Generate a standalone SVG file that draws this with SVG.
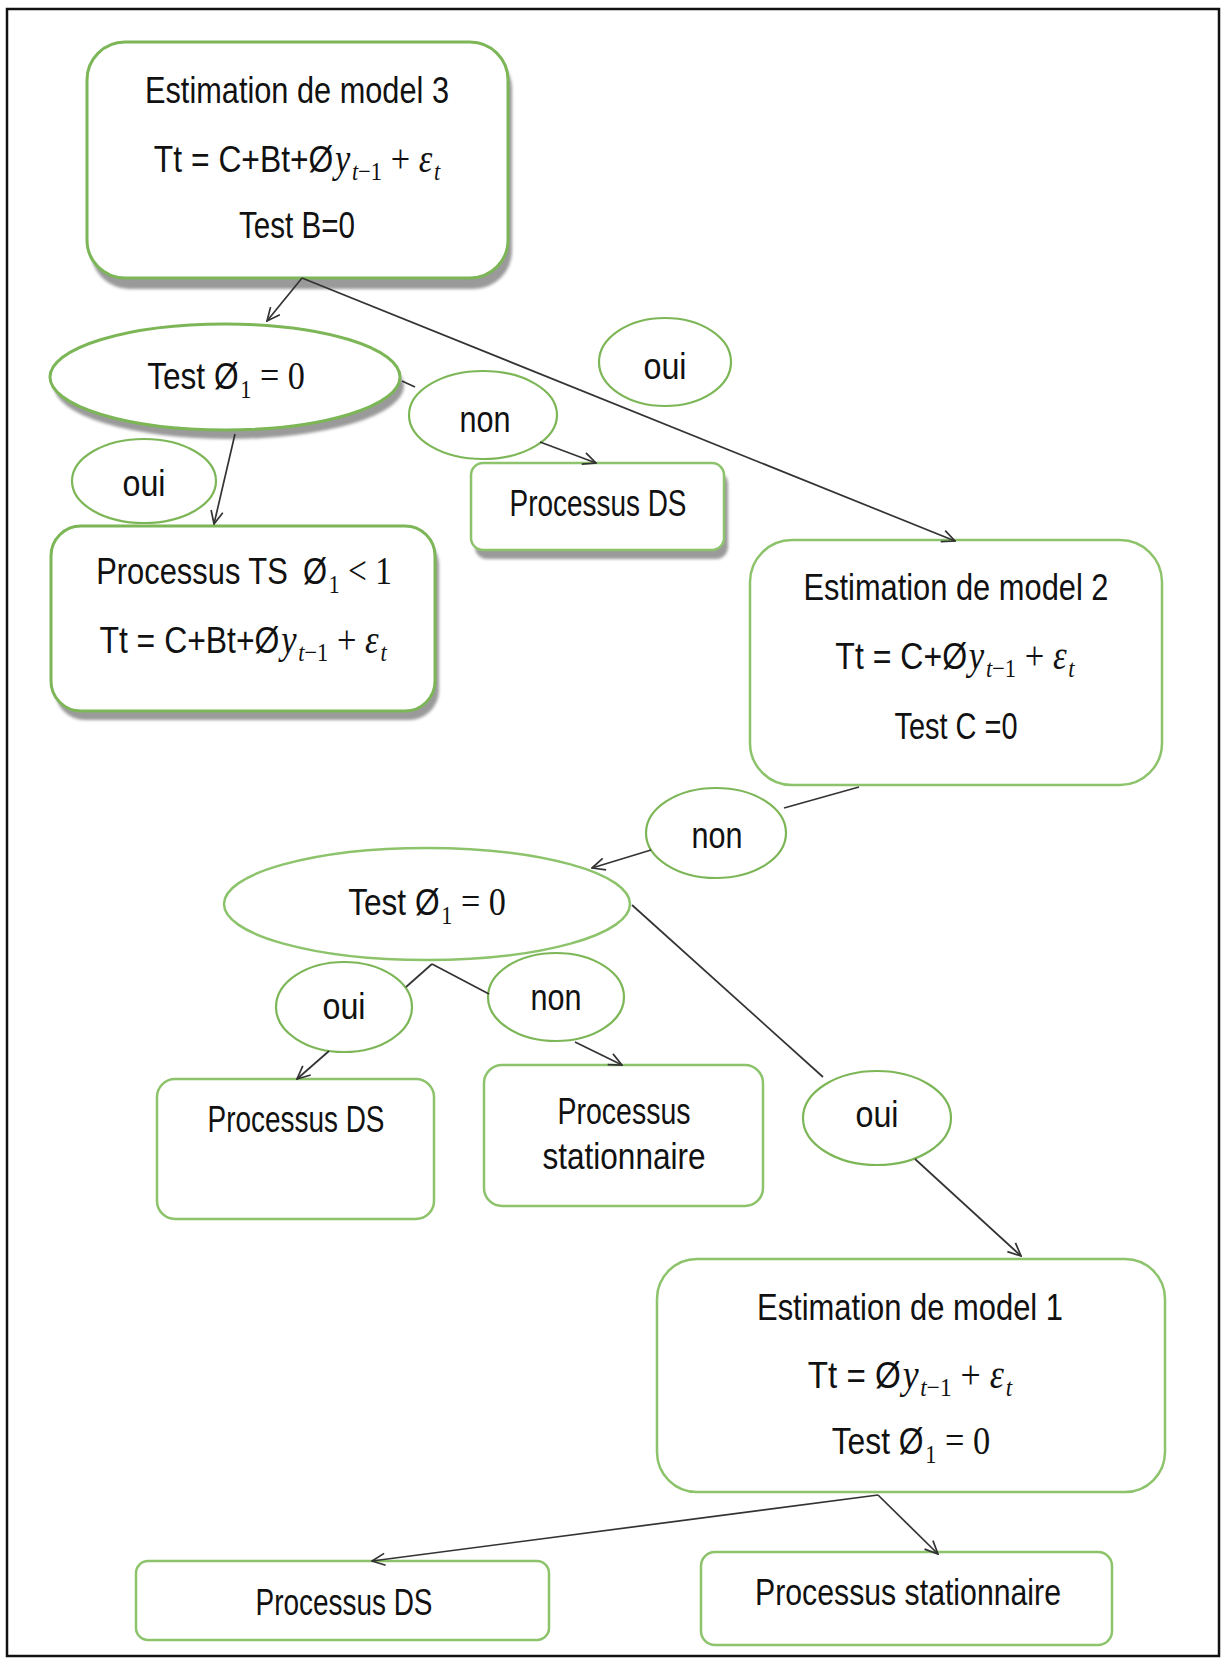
<svg xmlns="http://www.w3.org/2000/svg" width="1223" height="1659" viewBox="0 0 1223 1659">
  <style>
    .box { fill: #ffffff; stroke: #7cb657; stroke-width: 3; }
    .lite { fill: #ffffff; stroke: #8cc36b; stroke-width: 2.5; }
    .shadow { fill: #9a9a9a; filter: url(#soft); }
    .lbl { fill: #ffffff; stroke: #7cb657; stroke-width: 2.2; }
    .t { font-family: "Liberation Sans", Arial, sans-serif; font-size: 37px; fill: #111; text-anchor: middle; }
    .m { font-family: "Liberation Serif", "DejaVu Serif", serif; font-style: italic; font-size: 40px; }
    .mr { font-family: "Liberation Serif", "DejaVu Serif", serif; font-size: 40px; }
    .sub { font-size: 26px; }
    .edge { fill: none; stroke: #333; stroke-width: 1.7; }
  </style>
  <defs>
    <filter id="soft" x="-5%" y="-5%" width="110%" height="120%">
      <feGaussianBlur stdDeviation="1.5"/>
    </filter>
    <marker id="arr" viewBox="0 0 16 16" refX="15" refY="8" markerWidth="16" markerHeight="16" markerUnits="userSpaceOnUse" orient="auto">
      <path d="M2,2 L15,8 L2,14" fill="none" stroke="#333" stroke-width="1.7"/>
    </marker>
  </defs>

  <rect x="0" y="0" width="1223" height="1659" fill="#ffffff"/>
  <!-- page frame -->
  <rect x="7" y="9" width="1212" height="1647" fill="none" stroke="#111" stroke-width="2.5"/>

  <!-- Estimation de model 3 -->
  <g id="model3">
    <rect class="shadow" x="91" y="51" width="421" height="238" rx="38"/>
    <rect class="box" x="87" y="42" width="421" height="236" rx="38"/>
    <text class="t" x="297" y="103" textLength="304" lengthAdjust="spacingAndGlyphs">Estimation de model 3</text>
    <text class="t" x="0" y="172" transform="translate(297,0) scale(0.86,1)">Tt = C+Bt+Ø<tspan class="m" dx="2">y</tspan><tspan class="m sub" dx="2" dy="8">t</tspan><tspan class="mr sub">−1</tspan><tspan class="mr" dy="-8"> + </tspan><tspan class="m">ε</tspan><tspan class="m sub" dx="2" dy="8">t</tspan></text>
    <text class="t" x="297" y="238" textLength="116" lengthAdjust="spacingAndGlyphs">Test B=0</text>
  </g>

  <!-- Test phi = 0 (model 3) -->
  <g id="test1">
    <ellipse class="shadow" cx="229" cy="386" rx="175" ry="53"/>
    <ellipse class="box" cx="225" cy="377" rx="175" ry="53"/>
    <text class="t" x="0" y="389" transform="translate(226,0) scale(0.855,1)">Test Ø<tspan class="mr sub" dx="2" dy="9">1</tspan><tspan class="mr" dy="-9"> = 0</tspan></text>
  </g>

  <g id="oui1">
    <ellipse class="lbl" cx="144" cy="481" rx="72" ry="42"/>
    <text class="t" x="144" y="496" textLength="43" lengthAdjust="spacingAndGlyphs">oui</text>
  </g>

  <g id="non1">
    <ellipse class="lbl" cx="483" cy="415" rx="74" ry="44"/>
    <text class="t" x="485" y="432" textLength="51" lengthAdjust="spacingAndGlyphs">non</text>
  </g>

  <g id="oui2">
    <ellipse class="lbl" cx="665" cy="362" rx="66" ry="44"/>
    <text class="t" x="665" y="379" textLength="43" lengthAdjust="spacingAndGlyphs">oui</text>
  </g>

  <!-- Processus TS -->
  <g id="processusTS">
    <rect class="shadow" x="55" y="535" width="384" height="185" rx="30"/>
    <rect class="box" x="51" y="526" width="384" height="185" rx="30"/>
    <text class="t" x="0" y="584" transform="translate(244,0) scale(0.835,1)">Processus TS <tspan dx="8">Ø</tspan><tspan class="mr sub" dx="2" dy="9">1</tspan><tspan class="mr" dy="-9"> &lt; 1</tspan></text>
    <text class="t" x="0" y="653" transform="translate(243,0) scale(0.863,1)">Tt = C+Bt+Ø<tspan class="m" dx="2">y</tspan><tspan class="m sub" dx="2" dy="8">t</tspan><tspan class="mr sub">−1</tspan><tspan class="mr" dy="-8"> + </tspan><tspan class="m">ε</tspan><tspan class="m sub" dx="2" dy="8">t</tspan></text>
  </g>

  <!-- Processus DS (model 3) -->
  <g id="processusDS1">
    <rect class="shadow" x="475" y="472" width="253" height="87" rx="12"/>
    <rect class="lite" x="471" y="463" width="253" height="87" rx="12"/>
    <text class="t" x="598" y="516" textLength="177" lengthAdjust="spacingAndGlyphs">Processus DS</text>
  </g>

  <!-- Estimation de model 2 -->
  <g id="model2">
    <rect class="lite" x="750" y="540" width="412" height="245" rx="42"/>
    <text class="t" x="956" y="600" textLength="305" lengthAdjust="spacingAndGlyphs">Estimation de model 2</text>
    <text class="t" x="0" y="669" transform="translate(955,0) scale(0.866,1)">Tt = C+Ø<tspan class="m" dx="2">y</tspan><tspan class="m sub" dx="2" dy="8">t</tspan><tspan class="mr sub">−1</tspan><tspan class="mr" dy="-8"> + </tspan><tspan class="m">ε</tspan><tspan class="m sub" dx="2" dy="8">t</tspan></text>
    <text class="t" x="956" y="739" textLength="123" lengthAdjust="spacingAndGlyphs">Test C =0</text>
  </g>

  <g id="non2">
    <ellipse class="lbl" cx="716" cy="833" rx="70" ry="45"/>
    <text class="t" x="717" y="848" textLength="51" lengthAdjust="spacingAndGlyphs">non</text>
  </g>

  <!-- Test phi = 0 (model 2) -->
  <g id="test2">
    <ellipse class="lite" cx="427" cy="904" rx="203" ry="56"/>
    <text class="t" x="0" y="915" transform="translate(427,0) scale(0.855,1)">Test Ø<tspan class="mr sub" dx="2" dy="9">1</tspan><tspan class="mr" dy="-9"> = 0</tspan></text>
  </g>

  <g id="oui3">
    <ellipse class="lbl" cx="344" cy="1007" rx="68" ry="45"/>
    <text class="t" x="344" y="1019" textLength="43" lengthAdjust="spacingAndGlyphs">oui</text>
  </g>

  <g id="non3">
    <ellipse class="lbl" cx="556" cy="997" rx="68" ry="44"/>
    <text class="t" x="556" y="1010" textLength="51" lengthAdjust="spacingAndGlyphs">non</text>
  </g>

  <g id="processusDS2">
    <rect class="lite" x="157" y="1079" width="277" height="140" rx="18"/>
    <text class="t" x="296" y="1132" textLength="177" lengthAdjust="spacingAndGlyphs">Processus DS</text>
  </g>

  <g id="stationnaire1">
    <rect class="lite" x="484" y="1065" width="279" height="141" rx="18"/>
    <text class="t" x="624" y="1124" textLength="133" lengthAdjust="spacingAndGlyphs">Processus</text>
    <text class="t" x="624" y="1169" textLength="163" lengthAdjust="spacingAndGlyphs">stationnaire</text>
  </g>

  <g id="oui4">
    <ellipse class="lbl" cx="877" cy="1118" rx="74" ry="47"/>
    <text class="t" x="877" y="1127" textLength="43" lengthAdjust="spacingAndGlyphs">oui</text>
  </g>

  <!-- Estimation de model 1 -->
  <g id="model1">
    <rect class="lite" x="657" y="1259" width="508" height="233" rx="40"/>
    <text class="t" x="910" y="1320" textLength="306" lengthAdjust="spacingAndGlyphs">Estimation de model 1</text>
    <text class="t" x="0" y="1388" transform="translate(910,0) scale(0.896,1)">Tt = Ø<tspan class="m" dx="2">y</tspan><tspan class="m sub" dx="2" dy="8">t</tspan><tspan class="mr sub">−1</tspan><tspan class="mr" dy="-8"> + </tspan><tspan class="m">ε</tspan><tspan class="m sub" dx="2" dy="8">t</tspan></text>
    <text class="t" x="0" y="1454" transform="translate(911,0) scale(0.86,1)">Test Ø<tspan class="mr sub" dx="2" dy="9">1</tspan><tspan class="mr" dy="-9"> = 0</tspan></text>
  </g>

  <g id="processusDS3">
    <rect class="lite" x="136" y="1561" width="413" height="79" rx="12"/>
    <text class="t" x="344" y="1615" textLength="177" lengthAdjust="spacingAndGlyphs">Processus DS</text>
  </g>

  <g id="stationnaire2">
    <rect class="lite" x="701" y="1552" width="411" height="93" rx="14"/>
    <text class="t" x="908" y="1605" textLength="306" lengthAdjust="spacingAndGlyphs">Processus stationnaire</text>
  </g>

  <!-- connectors, drawn over the node outlines -->
  <g id="connectors">
    <line class="edge" x1="302" y1="278" x2="267" y2="321" marker-end="url(#arr)"/>
    <line class="edge" x1="302" y1="278" x2="955" y2="541" marker-end="url(#arr)"/>
    <line class="edge" x1="235" y1="434" x2="214" y2="524" marker-end="url(#arr)"/>
    <line class="edge" x1="402" y1="381" x2="415" y2="387"/>
    <line class="edge" x1="540" y1="442" x2="596" y2="463" marker-end="url(#arr)"/>
    <line class="edge" x1="859" y1="787" x2="784" y2="808"/>
    <line class="edge" x1="651" y1="850" x2="592" y2="868" marker-end="url(#arr)"/>
    <line class="edge" x1="632" y1="905" x2="823" y2="1077"/>
    <line class="edge" x1="915" y1="1159" x2="1021" y2="1256" marker-end="url(#arr)"/>
    <line class="edge" x1="432" y1="964" x2="406" y2="987"/>
    <line class="edge" x1="329" y1="1051" x2="297" y2="1079" marker-end="url(#arr)"/>
    <line class="edge" x1="432" y1="964" x2="489" y2="994"/>
    <line class="edge" x1="575" y1="1042" x2="622" y2="1065" marker-end="url(#arr)"/>
    <line class="edge" x1="878" y1="1495" x2="372" y2="1561" marker-end="url(#arr)"/>
    <line class="edge" x1="878" y1="1495" x2="938" y2="1554" marker-end="url(#arr)"/>
  </g>
</svg>
